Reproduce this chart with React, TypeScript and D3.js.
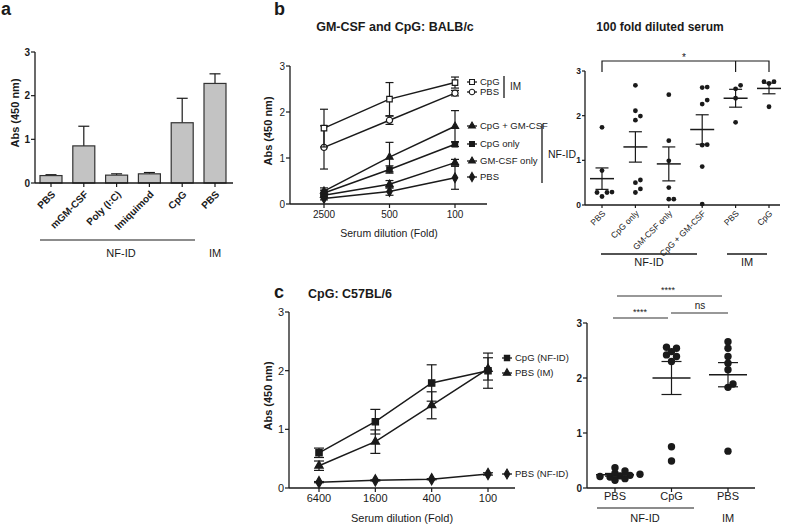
import * as d3 from 'd3';

const FONT = '"Liberation Sans", Arial, Helvetica, sans-serif';
const INK = '#1a1a1a';

// ---------- panel a: bars ----------
const aCategories = ['PBS', 'mGM-CSF', 'Poly (I:C)', 'Imiquimod', 'CpG', 'PBS'];
const aMeans = [0.17, 0.85, 0.18, 0.21, 1.38, 2.28];
const aErrors = [0.02, 0.45, 0.03, 0.03, 0.56, 0.22];

// ---------- panel b left: dilution curves ----------
const bDilutions = ['2500', '500', '100'];
const bCpgIM = [1.65, 2.28, 2.64];
const bCpgIMErr = [0.41, 0.36, 0.12];
const bPbsIM = [1.23, 1.82, 2.41];
const bPbsIMErr = [0.47, 0.09, 0.06];
const bCpgGm = [0.28, 1.02, 1.69];
const bCpgGmErr = [0.07, 0.32, 0.34];
const bCpgOnly = [0.24, 0.75, 1.30];
const bCpgOnlyErr = [0.06, 0.08, 0.05];
const bGmOnly = [0.19, 0.43, 0.90];
const bGmOnlyErr = [0.05, 0.08, 0.07];
const bPbs = [0.12, 0.27, 0.57];
const bPbsErr = [0.03, 0.08, 0.25];

// ---------- panel b right: 100 fold diluted serum ----------
const bRightCategories = ['PBS', 'CpG only', 'GM-CSF only', 'CpG + GM-CSF', 'PBS', 'CpG'];
const bRightPoints = [
  [1.74, 0.77, 0.28, 0.19, 0.28, 0.29],
  [2.68, 2.11, 1.99, 1.90, 0.56, 0.50, 0.36, 0.28],
  [2.47, 1.44, 0.99, 0.39, 0.13, 0.13],
  [2.63, 2.64, 2.35, 2.26, 1.34, 1.35, 0.86, 0.02],
  [2.60, 2.68, 2.39, 1.85],
  [2.76, 2.76, 2.72, 2.20],
];
const bRightMean = [0.59, 1.30, 0.92, 1.69, 2.39, 2.61];
const bRightSem = [0.24, 0.34, 0.38, 0.33, 0.20, 0.12];

// ---------- panel c left: C57BL/6 curves ----------
const cDilutions = ['6400', '1600', '400', '100'];
const cCpgNf = [0.60, 1.13, 1.79, 2.00];
const cCpgNfErr = [0.08, 0.21, 0.31, 0.30];
const cPbsIM = [0.38, 0.79, 1.41, 2.03];
const cPbsIMErr = [0.08, 0.20, 0.23, 0.19];
const cPbsNf = [0.10, 0.13, 0.15, 0.24];
const cPbsNfErr = [0.01, 0.01, 0.01, 0.02];

// ---------- panel c right ----------
const cRightCategories = ['PBS', 'CpG', 'PBS'];
const cRightPoints = [
  [0.23, 0.37, 0.22, 0.14, 0.20, 0.31, 0.17, 0.21, 0.25, 0.27],
  [2.54, 2.56, 2.42, 2.48, 2.39, 2.30, 0.75, 0.49],
  [2.66, 2.54, 2.39, 2.27, 2.15, 1.89, 1.83, 0.67],
];
const cRightMean = [0.24, 2.00, 2.06];
const cRightSem = [0.025, 0.30, 0.22];

const yTicks = [0, 1, 2, 3];

type Scale = d3.ScaleLinear<number, number>;

function YAxis({ x, y, size, weight = 'normal', len = 4 }: { x: number; y: Scale; size: number; weight?: string; len?: number }) {
  const [r0, r1] = y.range();
  return (
    <g>
      <line x1={x} x2={x} y1={r0} y2={r1} stroke={INK} strokeWidth={1.3} />
      {yTicks.map(t => (
        <g key={t}>
          <line x1={x - len} x2={x} y1={y(t)} y2={y(t)} stroke={INK} strokeWidth={1.2} />
          <text x={x - len - 1} y={y(t)} dy="0.35em" textAnchor="end" fontSize={size} fontWeight={weight}>{t}</text>
        </g>
      ))}
    </g>
  );
}

function XAxis({ x0, x1, y0, ticks, len = 4 }: { x0: number; x1: number; y0: number; ticks: number[]; len?: number }) {
  return (
    <g>
      <line x1={x0} x2={x1} y1={y0} y2={y0} stroke={INK} strokeWidth={1.3} />
      {ticks.map((t, i) => (
        <line key={i} x1={t} x2={t} y1={y0} y2={y0 + len} stroke={INK} strokeWidth={1.2} />
      ))}
    </g>
  );
}

function ErrBar({ x, y, v, e, w }: { x: number; y: Scale; v: number; e: number; w: number }) {
  return (
    <g stroke={INK} strokeWidth={1.2}>
      <line x1={x} x2={x} y1={y(v - e)} y2={y(v + e)} />
      <line x1={x - w} x2={x + w} y1={y(v + e)} y2={y(v + e)} />
      <line x1={x - w} x2={x + w} y1={y(v - e)} y2={y(v - e)} />
    </g>
  );
}

// simple beeswarm: nudge each dot sideways until it no longer hits a placed one
function swarm(values: number[], y: Scale, cx: number, minDist: number, step: number) {
  const order = values.map((_, i) => i).sort((a, b) => values[a] - values[b]);
  const placed: { x: number; y: number }[] = [];
  const out: { x: number; y: number }[] = new Array(values.length);
  for (const i of order) {
    const py = y(values[i]);
    let px = cx;
    for (let n = 0; n < 30; n++) {
      const off = n === 0 ? 0 : (n % 2 ? 1 : -1) * Math.ceil(n / 2) * step;
      px = cx + off;
      if (placed.every(p => Math.hypot(p.x - px, p.y - py) >= minDist)) break;
    }
    placed.push({ x: px, y: py });
    out[i] = { x: px, y: py };
  }
  return out;
}

const sym = (type: d3.SymbolType, size: number) => d3.symbol().type(type).size(size)() || '';

function Series({ xs, ys, errs, y, type, size, open = false, cap = 4 }: {
  xs: number[]; ys: number[]; errs: number[]; y: Scale; type: d3.SymbolType; size: number; open?: boolean; cap?: number;
}) {
  const pts = ys.map((v, i) => [xs[i], y(v)] as [number, number]);
  const line = d3.line()(pts) || '';
  return (
    <g>
      <path d={line} fill="none" stroke={INK} strokeWidth={1.5} />
      {ys.map((v, i) => <ErrBar key={i} x={xs[i]} y={y} v={v} e={errs[i]} w={cap} />)}
      {pts.map((p, i) => (
        <path key={i} d={sym(type, size)} transform={`translate(${p[0]},${p[1]})`}
          fill={open ? 'white' : INK} stroke={INK} strokeWidth={1.2} />
      ))}
    </g>
  );
}

function Legend({ x, y, label, type, size, open = false, fs = 9.5 }: {
  x: number; y: number; label: string; type: d3.SymbolType; size: number; open?: boolean; fs?: number;
}) {
  return (
    <g>
      <line x1={x - 5} x2={x + 5} y1={y} y2={y} stroke={INK} strokeWidth={1.3} />
      <path d={sym(type, size)} transform={`translate(${x},${y})`} fill={open ? 'white' : INK} stroke={INK} strokeWidth={1.1} />
      <text x={x + 8} y={y} dy="0.35em" fontSize={fs}>{label}</text>
    </g>
  );
}

export default function App() {
  // panel a scales
  const xA = d3.scalePoint<number>().domain(aCategories.map((_, i) => i)).range([51, 215]);
  const yA = d3.scaleLinear().domain([0, 3]).range([183, 52]);

  // panel b left
  const xB = d3.scalePoint<string>().domain(bDilutions).range([324, 455]);
  const yB = d3.scaleLinear().domain([0, 3]).range([204, 66]);
  const bx = bDilutions.map(d => xB(d) as number);

  // panel b right
  const xBR = d3.scalePoint<number>().domain(bRightCategories.map((_, i) => i)).range([602, 769]);
  const yBR = d3.scaleLinear().domain([0, 3]).range([205, 71]);

  // panel c left
  const xC = d3.scalePoint<string>().domain(cDilutions).range([319, 488]);
  const yC = d3.scaleLinear().domain([0, 3]).range([488, 312]);
  const cx = cDilutions.map(d => xC(d) as number);

  // panel c right
  const xCR = d3.scalePoint<number>().domain(cRightCategories.map((_, i) => i)).range([615, 728]);
  const yCR = d3.scaleLinear().domain([0, 3]).range([488, 323]);

  const barW = 22;

  return (
    <svg width={787} height={524} style={{ position: 'absolute', left: 0, top: 0, background: 'white' }}
      fontFamily={FONT} fill={INK}>
      {/* ===== a ===== */}
      <text x={1} y={15} fontSize={18} fontWeight="bold">a</text>
      <text transform="translate(19,113) rotate(-90)" textAnchor="middle" fontSize={11} fontWeight="bold">Abs (450 nm)</text>
      {aMeans.map((v, i) => {
        const x = xA(i) as number;
        return (
          <g key={i}>
            <line x1={x} x2={x} y1={yA(v)} y2={yA(v + aErrors[i])} stroke={INK} strokeWidth={1.2} />
            <line x1={x - 5.5} x2={x + 5.5} y1={yA(v + aErrors[i])} y2={yA(v + aErrors[i])} stroke={INK} strokeWidth={1.2} />
            <rect x={x - barW / 2} y={yA(v)} width={barW} height={yA(0) - yA(v)} fill="#c3c3c3" stroke="#333" strokeWidth={1.2} />
          </g>
        );
      })}
      <YAxis x={35} y={yA} size={10} weight="bold" />
      <XAxis x0={35} x1={233} y0={183} ticks={aCategories.map((_, i) => xA(i) as number)} />
      {aCategories.map((c, i) => (
        <text key={i} transform={`translate(${(xA(i) as number) + 5},${195}) rotate(-45)`} textAnchor="end"
          fontSize={10} fontWeight="bold">{c}</text>
      ))}
      <line x1={40} x2={195} y1={240} y2={240} stroke={INK} strokeWidth={1.2} />
      <text x={121} y={257} textAnchor="middle" fontSize={11}>NF-ID</text>
      <text x={215} y={257} textAnchor="middle" fontSize={11}>IM</text>

      {/* ===== b left ===== */}
      <text x={274} y={15} fontSize={18} fontWeight="bold">b</text>
      <text x={395} y={31} textAnchor="middle" fontSize={12.5} fontWeight="bold">GM-CSF and CpG: BALB/c</text>
      <text transform="translate(272,131) rotate(-90)" textAnchor="middle" fontSize={11} fontWeight="bold">Abs (450 nm)</text>
      <Series xs={bx} ys={bPbs} errs={bPbsErr} y={yB} type={d3.symbolDiamond} size={26} />
      <Series xs={bx} ys={bGmOnly} errs={bGmOnlyErr} y={yB} type={d3.symbolTriangle} size={22} />
      <Series xs={bx} ys={bCpgOnly} errs={bCpgOnlyErr} y={yB} type={d3.symbolSquare} size={28} />
      <Series xs={bx} ys={bCpgGm} errs={bCpgGmErr} y={yB} type={d3.symbolTriangle} size={22} />
      <Series xs={bx} ys={bPbsIM} errs={bPbsIMErr} y={yB} type={d3.symbolCircle} size={30} open />
      <Series xs={bx} ys={bCpgIM} errs={bCpgIMErr} y={yB} type={d3.symbolSquare} size={30} open />
      <YAxis x={290} y={yB} size={10} />
      <XAxis x0={290} x1={487} y0={204} ticks={bx} />
      {bDilutions.map((d, i) => (
        <text key={d} x={bx[i]} y={218} textAnchor="middle" fontSize={10}>{d}</text>
      ))}
      <text x={389} y={237} textAnchor="middle" fontSize={10.5}>Serum dilution (Fold)</text>
      <Legend x={472} y={82} label="CpG" type={d3.symbolSquare} size={24} open />
      <Legend x={472} y={92} label="PBS" type={d3.symbolCircle} size={24} open />
      <line x1={504} x2={504} y1={76} y2={98} stroke={INK} strokeWidth={1.3} />
      <text x={510} y={90} fontSize={10}>IM</text>
      <Legend x={472} y={126} label="CpG + GM-CSF" type={d3.symbolTriangle} size={20} />
      <Legend x={472} y={144} label="CpG only" type={d3.symbolSquare} size={24} />
      <Legend x={472} y={161} label="GM-CSF only" type={d3.symbolTriangle} size={20} />
      <Legend x={472} y={177} label="PBS" type={d3.symbolDiamond} size={24} />
      <line x1={542} x2={542} y1={124} y2={183} stroke={INK} strokeWidth={1.3} />
      <text x={548} y={158} fontSize={10.5}>NF-ID</text>

      {/* ===== b right ===== */}
      <text x={660} y={31} textAnchor="middle" fontSize={12} fontWeight="bold">100 fold diluted serum</text>
      <path d={`M${xBR(0)},72V61H${xBR(5)}V72M${xBR(4)},61V72`} fill="none" stroke={INK} strokeWidth={1.2} />
      <text x={684} y={61} textAnchor="middle" fontSize={10}>*</text>
      {bRightPoints.map((vals, g) => {
        const cxg = xBR(g) as number;
        const pts = swarm(vals, yBR, cxg, 5, 5);
        return (
          <g key={g}>
            {pts.map((p, i) => <circle key={i} cx={p.x} cy={p.y} r={2.4} fill={INK} />)}
            <line x1={cxg - 12} x2={cxg + 12} y1={yBR(bRightMean[g])} y2={yBR(bRightMean[g])} stroke={INK} strokeWidth={1.5} />
            <ErrBar x={cxg} y={yBR} v={bRightMean[g]} e={bRightSem[g]} w={6.5} />
          </g>
        );
      })}
      <YAxis x={585} y={yBR} size={8.5} weight="bold" len={3} />
      <XAxis x0={585} x1={780} y0={205} ticks={bRightCategories.map((_, i) => xBR(i) as number)} len={3} />
      {bRightCategories.map((c, i) => (
        <text key={i} transform={`translate(${(xBR(i) as number) + 4},${214}) rotate(-45)`} textAnchor="end"
          fontSize={8.5}>{c}</text>
      ))}
      <line x1={601} x2={697} y1={254} y2={254} stroke={INK} strokeWidth={1.3} />
      <text x={649} y={266} textAnchor="middle" fontSize={11}>NF-ID</text>
      <line x1={727} x2={767} y1={254} y2={254} stroke={INK} strokeWidth={1.3} />
      <text x={747} y={266} textAnchor="middle" fontSize={11}>IM</text>

      {/* ===== c left ===== */}
      <text x={274} y={298} fontSize={18} fontWeight="bold">c</text>
      <text x={308} y={298} fontSize={12.5} fontWeight="bold">CpG: C57BL/6</text>
      <text transform="translate(272,396) rotate(-90)" textAnchor="middle" fontSize={11} fontWeight="bold">Abs (450 nm)</text>
      <Series xs={cx} ys={cPbsNf} errs={cPbsNfErr} y={yC} type={d3.symbolDiamond} size={36} cap={5} />
      <Series xs={cx} ys={cPbsIM} errs={cPbsIMErr} y={yC} type={d3.symbolTriangle} size={30} cap={5} />
      <Series xs={cx} ys={cCpgNf} errs={cCpgNfErr} y={yC} type={d3.symbolSquare} size={40} cap={5} />
      <YAxis x={289} y={yC} size={11} />
      <XAxis x0={289} x1={515} y0={488} ticks={cx} />
      {cDilutions.map((d, i) => (
        <text key={d} x={cx[i]} y={502} textAnchor="middle" fontSize={11}>{d}</text>
      ))}
      <text x={402} y={522} textAnchor="middle" fontSize={11}>Serum dilution (Fold)</text>
      <Legend x={507} y={358} label="CpG (NF-ID)" type={d3.symbolSquare} size={28} />
      <Legend x={507} y={373} label="PBS (IM)" type={d3.symbolTriangle} size={24} />
      <Legend x={507} y={474} label="PBS (NF-ID)" type={d3.symbolDiamond} size={28} />

      {/* ===== c right ===== */}
      <line x1={617} x2={722} y1={296} y2={296} stroke="#333" strokeWidth={1.2} />
      <text x={668} y={293} textAnchor="middle" fontSize={9}>****</text>
      <line x1={613} x2={668} y1={318} y2={318} stroke="#333" strokeWidth={1.2} />
      <text x={640} y={315} textAnchor="middle" fontSize={9}>****</text>
      <line x1={671} x2={728} y1={313} y2={313} stroke="#333" strokeWidth={1.2} />
      <text x={700} y={309} textAnchor="middle" fontSize={10}>ns</text>
      {cRightPoints.map((vals, g) => {
        const cxg = xCR(g) as number;
        const pts = swarm(vals, yCR, cxg, 5.5, 5);
        return (
          <g key={g}>
            {pts.map((p, i) => <circle key={i} cx={p.x} cy={p.y} r={3.7} fill={INK} />)}
            <line x1={cxg - 19} x2={cxg + 19} y1={yCR(cRightMean[g])} y2={yCR(cRightMean[g])} stroke={INK} strokeWidth={1.6} />
            <ErrBar x={cxg} y={yCR} v={cRightMean[g]} e={cRightSem[g]} w={10} />
          </g>
        );
      })}
      <YAxis x={587} y={yCR} size={10} weight="bold" />
      <XAxis x0={587} x1={755} y0={488} ticks={cRightCategories.map((_, i) => xCR(i) as number)} />
      {cRightCategories.map((c, i) => (
        <text key={i} x={xCR(i) as number} y={500} textAnchor="middle" fontSize={11}>{c}</text>
      ))}
      <line x1={597} x2={694} y1={508} y2={508} stroke={INK} strokeWidth={1.2} />
      <text x={645} y={522} textAnchor="middle" fontSize={11}>NF-ID</text>
      <text x={728} y={522} textAnchor="middle" fontSize={11}>IM</text>
    </svg>
  );
}
